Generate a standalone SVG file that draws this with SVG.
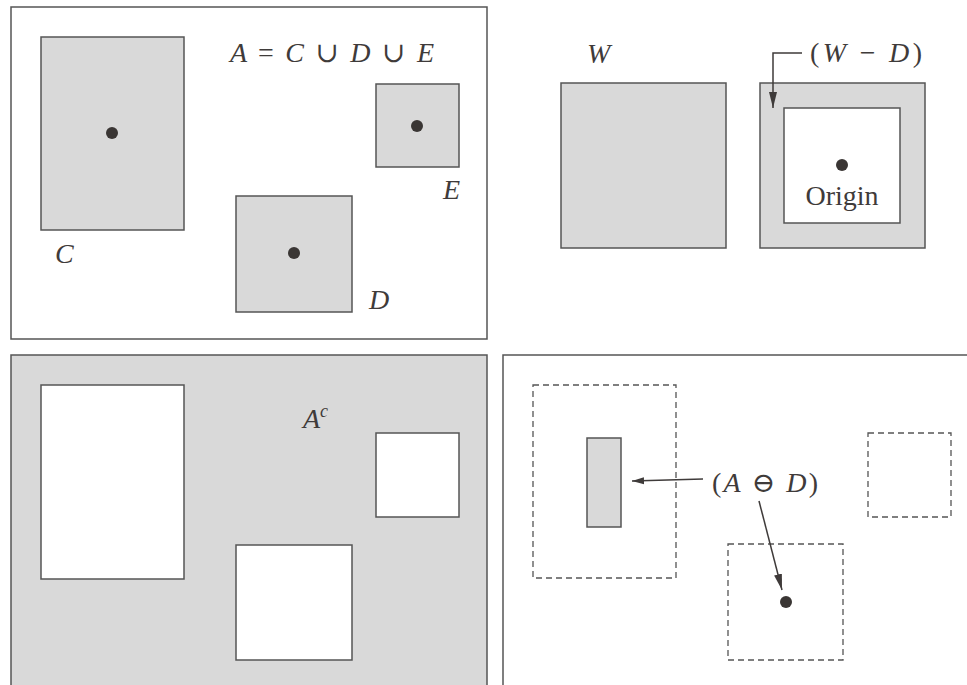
<svg xmlns="http://www.w3.org/2000/svg" width="967" height="685" viewBox="0 0 967 685">
<defs>
<style>
.fr{fill:#fff;stroke:#555;stroke-width:1.5}
.g{fill:#d9d9d9;stroke:#555;stroke-width:1.5}
.w{fill:#fff;stroke:#555;stroke-width:1.5}
.d{fill:none;stroke:#555;stroke-width:1.3;stroke-dasharray:6,4}
.dot{fill:#3a3634}
.t{font-family:'Liberation Serif','DejaVu Serif','Times New Roman',serif;fill:#3f3b3a;font-size:28px}
.i{font-style:italic}
.ln{fill:none;stroke:#3f3b3a;stroke-width:1.5}
</style>
<marker id="ah" viewBox="0 0 12 10" refX="12" refY="5" markerWidth="12" markerHeight="10" markerUnits="userSpaceOnUse" orient="auto">
<path d="M0,1.5 L12,5 L0,8.5 Z" fill="#3f3b3a"/>
</marker>
<marker id="ahl" viewBox="0 0 16 10" refX="16" refY="5" markerWidth="16" markerHeight="10" markerUnits="userSpaceOnUse" orient="auto">
<path d="M0,1 L16,5 L0,9 Z" fill="#3f3b3a"/>
</marker>
</defs>
<rect width="967" height="685" fill="#fff"/>

<g id="panel-a">
<rect class="fr" x="11" y="7" width="476" height="332"/>
<g id="C"><rect class="g" x="41" y="37" width="143" height="193"/><circle class="dot" cx="112" cy="133" r="6"/><text class="t i" x="55" y="263">C</text></g>
<g id="D"><rect class="g" x="236" y="196" width="116" height="116"/><circle class="dot" cx="294" cy="253" r="6"/><text class="t i" x="369" y="309">D</text></g>
<g id="E"><rect class="g" x="376" y="84" width="83" height="83"/><circle class="dot" cx="417" cy="126" r="6"/><text class="t i" x="443" y="199">E</text></g>
<text class="t i" x="230" y="62" textLength="204" lengthAdjust="spacing">A <tspan font-style="normal">=</tspan> C <tspan font-style="normal">∪</tspan> D <tspan font-style="normal">∪</tspan> E</text>
</g>

<g id="panel-b">
<g id="W"><rect class="g" x="561" y="83" width="165" height="165"/><text class="t i" x="587" y="63">W</text></g>
<g id="WminusD">
<rect class="g" x="760" y="83" width="165" height="165"/>
<rect class="w" x="784" y="108" width="116" height="115"/>
<circle class="dot" cx="842" cy="165" r="6"/>
<text class="t" x="842" y="205" text-anchor="middle" font-size="30">Origin</text>
<text class="t" x="810" y="62" textLength="112" lengthAdjust="spacing">(<tspan font-style="italic">W</tspan> − <tspan font-style="italic">D</tspan>)</text>
</g>
</g>

<g id="panel-c">
<rect class="g" x="11" y="355" width="476" height="340"/>
<rect class="w" x="41" y="385" width="143" height="194"/>
<rect class="w" x="236" y="545" width="116" height="115"/>
<rect class="w" x="376" y="433" width="83" height="84"/>
<text class="t i" x="303" y="428">A<tspan font-size="18" dy="-11">c</tspan></text>
</g>

<g id="panel-d">
<rect class="fr" x="503" y="355" width="480" height="340"/>
<rect class="d" x="533" y="385" width="143" height="193"/>
<rect class="d" x="728" y="544" width="115" height="116"/>
<rect class="d" x="868" y="433" width="83" height="84"/>
<rect class="g" x="587" y="438" width="34" height="89"/>
<circle class="dot" cx="786" cy="602" r="6"/>
<text class="t" x="712" y="492" textLength="106" lengthAdjust="spacing">(<tspan font-style="italic">A</tspan> ⊖ <tspan font-style="italic">D</tspan>)</text>
</g>

<g id="connectors">
<path class="ln" d="M802,53 H773 V108" marker-end="url(#ahl)"/>
<path class="ln" d="M703,479 L632,481" marker-end="url(#ah)"/>
<path class="ln" d="M759,501 L782,590" marker-end="url(#ahl)"/>
</g>
</svg>
